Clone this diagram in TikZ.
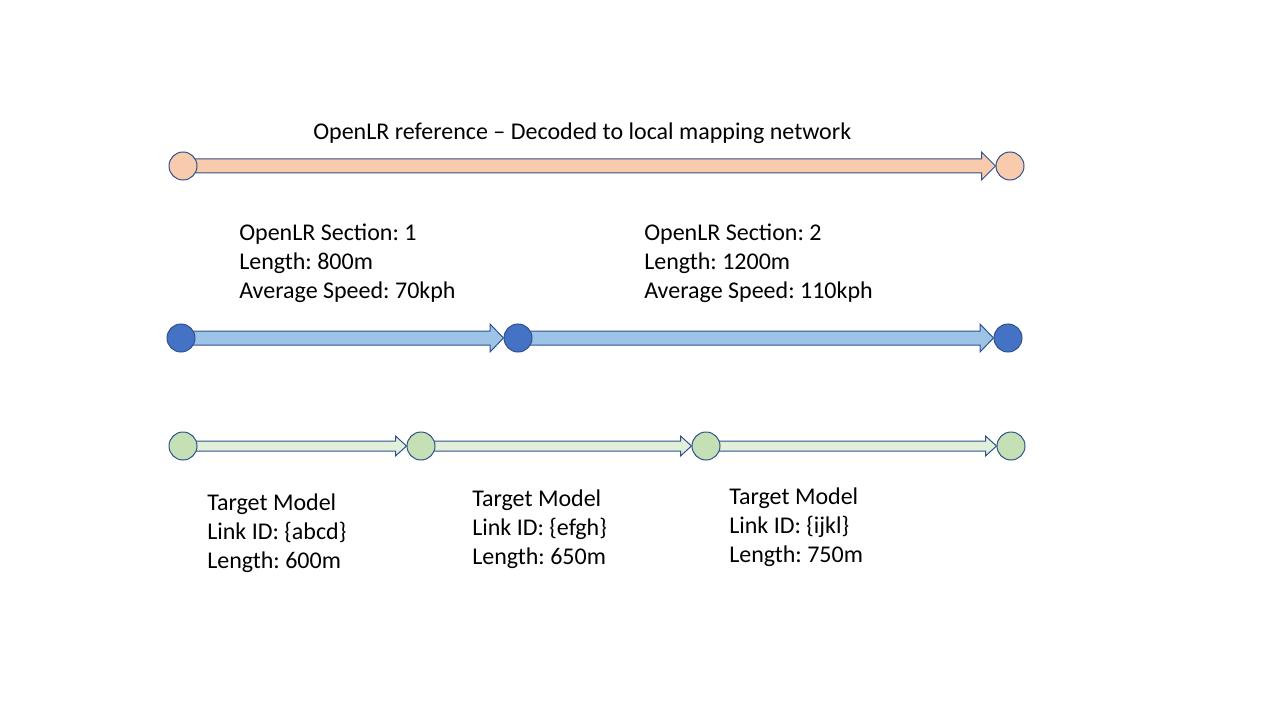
\documentclass[tikz,border=0pt]{standalone}
\usepackage{fontspec}
\setmainfont{Carlito}
\frenchspacing
\usetikzlibrary{calc}
\pgfdeclarelayer{background}
\pgfsetlayers{background,main}
\definecolor{edgeblue}{HTML}{2F528F}
\definecolor{peach}{HTML}{F8CBAD}
\definecolor{midblue}{HTML}{4472C4}
\definecolor{paleblue}{HTML}{9DC3E6}
\definecolor{sage}{HTML}{C5E0B4}
\definecolor{palegreen}{HTML}{E2F0D9}
\tikzset{
  pt/.style={circle,draw=edgeblue,line width=.75pt,minimum size=21pt,inner sep=0},
  lbl/.style={align=left,inner sep=0,anchor=base west,font=\fontsize{18}{21.75}\selectfont}
}
% block arrow: from, to, body half, head half, head length, fill
\newcommand{\blockarrow}[6]{%
  \begin{pgfonlayer}{background}
  \draw[draw=edgeblue,line width=.75pt,fill=#6,line join=miter]
    ($(#1.center)+(0,-#3)$) -- ($(#2.west)+(-#5,-#3)$) -- ($(#2.west)+(-#5,-#4)$)
    -- (#2.west) -- ($(#2.west)+(-#5,#4)$) -- ($(#2.west)+(-#5,#3)$)
    -- ($(#1.center)+(0,#3)$) -- cycle;
  \end{pgfonlayer}}
\begin{document}
\begin{tikzpicture}[x=.75pt,y=-.75pt]
        \useasboundingbox (0,0) rectangle (1280,720);

        \begin{scope}[every node/.style={pt,fill=peach}]
          \node (r1) at (183,166) {};
          \node (r2) at (1010,166) {};
        \end{scope}

        \begin{scope}[every node/.style={pt,fill=midblue}]
          \node (s1) at (181,338) {};
          \node (s2) at (518,338) {};
          \node (s3) at (1008,338) {};
        \end{scope}

        \begin{scope}[every node/.style={pt,fill=sage}]
          \node (t1) at (183,446) {};
          \node (t2) at (421,446) {};
          \node (t3) at (706,446) {};
          \node (t4) at (1011,446) {};
        \end{scope}

        \blockarrow{r1}{r2}{7}{14}{14}{peach}
        \blockarrow{s1}{s2}{7}{14}{13.5}{paleblue}
        \blockarrow{s2}{s3}{7}{14}{13.5}{paleblue}
        \blockarrow{t1}{t2}{5}{10}{11}{palegreen}
        \blockarrow{t2}{t3}{5}{10}{11}{palegreen}
        \blockarrow{t3}{t4}{5}{10}{11}{palegreen}

        % anchor base = baseline of the last line
        \begin{scope}[every node/.style={lbl}]
          \node (title) at (313,140) {OpenLR reference -- Decoded to local mapping network};
          \node (sec1) at (239,298) {OpenLR Section: 1\\Length: 800m\\Average Speed: 70kph};
          \node (sec2) at (644,298) {OpenLR Section: 2\\Length: 1200m\\Average Speed: 110kph};
          \node (lnk1) at (207,568) {Target Model\\Link ID: \{abcd\}\\Length: 600m};
          \node (lnk2) at (472,564) {Target Model\\Link ID: \{efgh\}\\Length: 650m};
          \node (lnk3) at (729,562) {Target Model\\Link ID: \{ijkl\}\\Length: 750m};
        \end{scope}

      \end{tikzpicture}
\end{document}
